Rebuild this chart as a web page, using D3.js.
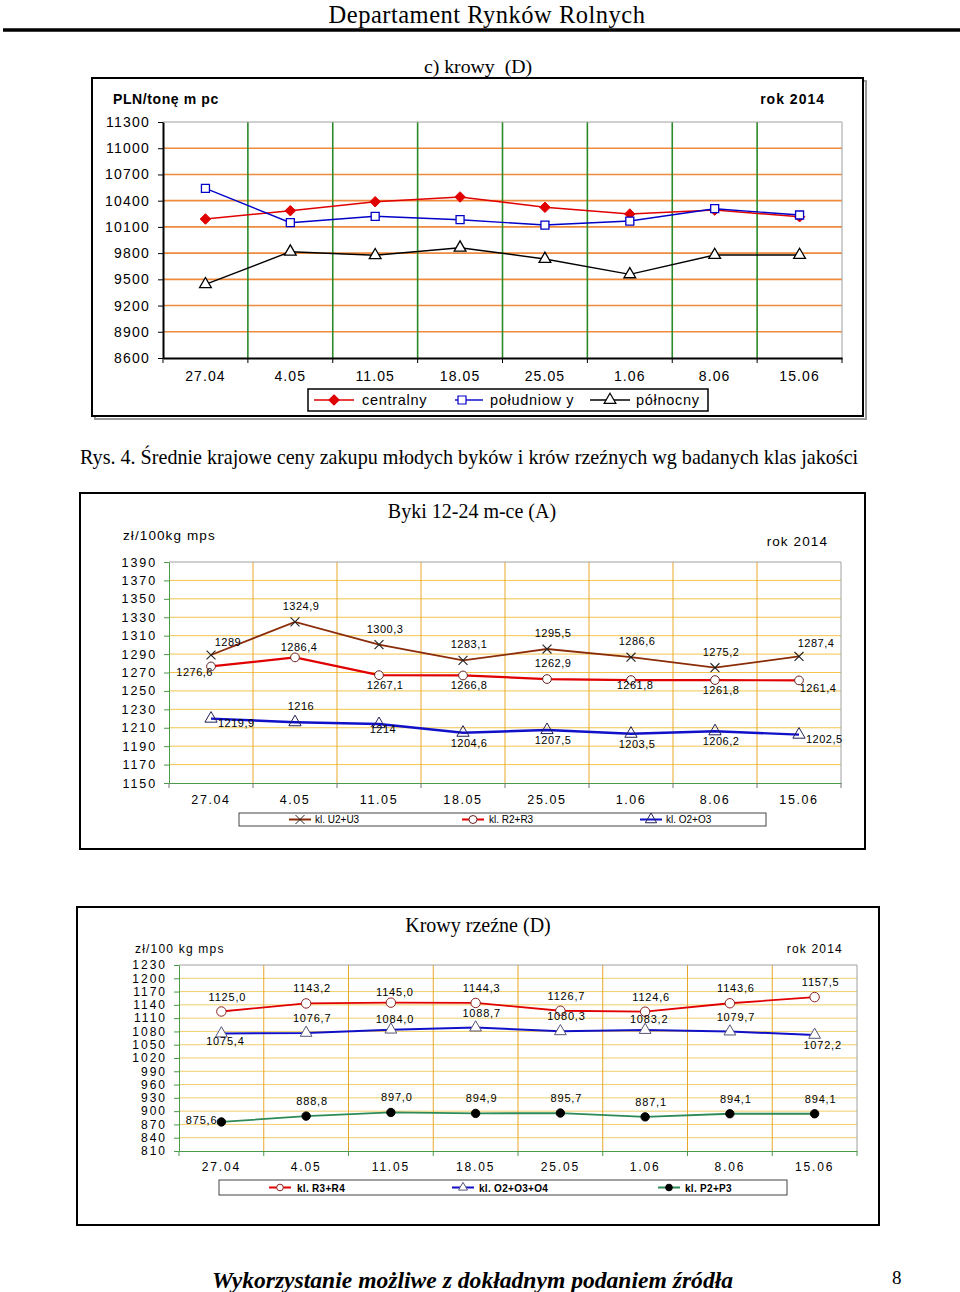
<!DOCTYPE html>
<html><head><meta charset="utf-8">
<script src="https://cdn.jsdelivr.net/npm/d3@7"></script>
<style>body{margin:0;background:#fff}svg{display:block}</style>
</head><body>
<svg id="c" width="960" height="1292"></svg>
<script>
// ---------- DATA ----------
const dates = ["27.04","4.05","11.05","18.05","25.05","1.06","8.06","15.06"];

// c) krowy (D) - regiony, PLN/tonę mpc
const regionTicks = [8600, 8900, 9200, 9500, 9800, 10100, 10400, 10700, 11000, 11300];
const centralny  = [10190, 10285, 10388, 10442, 10324, 10247, 10293, 10216];
const poludniowy = [10541, 10148, 10221, 10182, 10121, 10167, 10308, 10236];
const polnocny   = [9443, 9816, 9775, 9862, 9733, 9557, 9778, 9778];
const regionNames = ["centralny", "południow y", "północny"];

// Byki 12-24 m-ce (A), zł/100kg mps
const bykiTicks = [1150, 1170, 1190, 1210, 1230, 1250, 1270, 1290, 1310, 1330, 1350, 1370, 1390];
const bykiU = [1289, 1324.9, 1300.3, 1283.1, 1295.5, 1286.6, 1275.2, 1287.4];
const bykiR = [1276.6, 1286.4, 1267.1, 1266.8, 1262.9, 1261.8, 1261.8, 1261.4];
const bykiO = [1219.9, 1216, 1214, 1204.6, 1207.5, 1203.5, 1206.2, 1202.5];
const bykiNames = ["kl. U2+U3", "kl. R2+R3", "kl. O2+O3"];
const bykiUPos = ["tr","t","t","t","t","t","t","tr"];
const bykiRPos = ["l","t2","b","b","t","b2","b","br"];
const bykiOPos = ["r","t","b2","b","b","b","b","r"];

// Krowy rzeźne (D), zł/100 kg mps
const krowyTicks = [810, 840, 870, 900, 930, 960, 990, 1020, 1050, 1080, 1110, 1140, 1170, 1200, 1230];
const krowyR = [1125.0, 1143.2, 1145.0, 1144.3, 1126.7, 1124.6, 1143.6, 1157.5];
const krowyO = [1075.4, 1076.7, 1084.0, 1088.7, 1080.3, 1083.2, 1079.7, 1072.2];
const krowyP = [875.6, 888.8, 897.0, 894.9, 895.7, 887.1, 894.1, 894.1];
const krowyNames = ["kl. R3+R4", "kl. O2+O3+O4", "kl. P2+P3"];
const krowyRPos = ["t","t","t2","t","t","t","t","t"];
const krowyOPos = ["b","t","t2","t","t","t2","t","br"];
const krowyPPos = ["l","t","t","t","t","t","t","t"];

// ---------- DRAW ----------
const svg = d3.select("#c");
const SANS = "'Liberation Sans', Arial, sans-serif";
const SERIF = "'Liberation Serif', 'Times New Roman', serif";

const symX = { draw(ctx, size){ const r = Math.sqrt(size)/2; ctx.moveTo(-r,-r); ctx.lineTo(r,r); ctx.moveTo(r,-r); ctx.lineTo(-r,r);} };
const symDiamond = { draw(ctx, size){ const r = Math.sqrt(size)/2; ctx.moveTo(0,-r); ctx.lineTo(r,0); ctx.lineTo(0,r); ctx.lineTo(-r,0); ctx.closePath(); } };

function text(x, y, s, opt={}) {
  const t = svg.append("text").attr("x", x).attr("y", y).text(s)
    .attr("font-family", opt.family || SANS).attr("font-size", opt.size || 12)
    .attr("fill", opt.fill || "#000");
  if (opt.anchor) t.attr("text-anchor", opt.anchor);
  if (opt.weight) t.attr("font-weight", opt.weight);
  if (opt.style) t.attr("font-style", opt.style);
  if (opt.ls) t.attr("letter-spacing", opt.ls);
  return t;
}

// header
text(487, 23, "Departament Rynków Rolnych", {family: SERIF, size: 24.5, anchor: "middle", ls: 0.5});
svg.append("line").attr("x1", 3).attr("x2", 960).attr("y1", 30).attr("y2", 30).attr("stroke", "#000").attr("stroke-width", 3.5);
text(478, 73, "c) krowy  (D)", {family: SERIF, size: 19.8, anchor: "middle"}).style("white-space","pre");

text(80, 464, "Rys. 4. Średnie krajowe ceny zakupu młodych byków i krów rzeźnych wg badanych klas jakości", {family: SERIF, size: 20.1});

text(212, 1288, "Wykorzystanie możliwe z dokładnym podaniem źródła", {family: SERIF, size: 23.6, weight: "bold", style: "italic"});
text(892, 1284, "8", {family: SERIF, size: 19});

function frame(x, y, w, h, shadow) {
  if (shadow) svg.append("rect").attr("x", x+3).attr("y", y+3).attr("width", w).attr("height", h).attr("fill", "none").attr("stroke", "#999").attr("stroke-width", 2);
  svg.append("rect").attr("x", x).attr("y", y).attr("width", w).attr("height", h).attr("fill", "#fff").attr("stroke", "#000").attr("stroke-width", 2);
}

function plot(cfg) {
  const x = d3.scaleBand().domain(dates).range([cfg.x0, cfg.x1]).padding(0);
  const y = d3.scaleLinear().domain([cfg.ticks[0], cfg.ticks[cfg.ticks.length-1]]).range([cfg.y0, cfg.y1]);
  const g = svg.append("g");
  g.selectAll(".hg").data(cfg.ticks.slice(1, -1)).join("line")
    .attr("x1", cfg.x0).attr("x2", cfg.x1).attr("y1", d => y(d)).attr("y2", d => y(d))
    .attr("stroke", cfg.hgrid).attr("stroke-width", cfg.hgridW || 1);
  const bounds = dates.slice(1).map(d => x(d));
  g.selectAll(".vg").data(bounds).join("line")
    .attr("x1", d => d).attr("x2", d => d).attr("y1", cfg.y1).attr("y2", cfg.y0)
    .attr("stroke", cfg.vgrid).attr("stroke-width", cfg.vgridW || 1);
  g.append("line").attr("x1", cfg.x0).attr("x2", cfg.x1).attr("y1", cfg.y1).attr("y2", cfg.y1).attr("stroke", "#a0a0a0");
  g.append("line").attr("x1", cfg.x1).attr("x2", cfg.x1).attr("y1", cfg.y1).attr("y2", cfg.y0).attr("stroke", "#a0a0a0");
  const ya = d3.axisLeft(y).tickValues(cfg.ticks).tickSize(cfg.ytick).tickSizeOuter(0).tickFormat(d3.format("d"));
  const yg = g.append("g").attr("transform", `translate(${cfg.x0},0)`).call(ya);
  yg.select(".domain").attr("stroke", cfg.axis).attr("stroke-width", cfg.axisW);
  yg.selectAll(".tick line").attr("stroke", cfg.axis);
  yg.selectAll(".tick text").attr("font-family", SANS).attr("font-size", cfg.ySize).attr("fill", "#000")
    .attr("letter-spacing", cfg.yLs).attr("x", -cfg.yPad).attr("font-weight", cfg.yWeight || "normal");
  const xa = d3.axisBottom(x).tickSize(0).tickSizeOuter(0);
  const xg = g.append("g").attr("transform", `translate(0,${cfg.y0})`).call(xa);
  xg.select(".domain").attr("stroke", cfg.axis).attr("stroke-width", cfg.axisW);
  xg.selectAll(".tick text").attr("font-family", SANS).attr("font-size", cfg.xSize).attr("fill", "#000")
    .attr("letter-spacing", cfg.xLs).attr("y", cfg.xPad).attr("dy", "0.71em");
  g.selectAll(".xt").data([cfg.x0, ...bounds, cfg.x1]).join("line")
    .attr("x1", d => d).attr("x2", d => d).attr("y1", cfg.y0).attr("y2", cfg.y0 + cfg.xtick)
    .attr("stroke", cfg.xtickColor || cfg.axis).attr("stroke-width", 1);
  const cx = d => x(d) + x.bandwidth()/2;
  cfg.series.forEach(s => {
    const pts = s.values.map((v, i) => [cx(dates[i]), y(v)]);
    g.append("path").attr("d", d3.line()(pts)).attr("fill", "none").attr("stroke", s.color).attr("stroke-width", s.width || 1.5);
    const sym = d3.symbol().type(s.symbol).size(s.size);
    g.selectAll(null).data(s.values).join("path")
      .attr("transform", (v, i) => `translate(${cx(dates[i])},${y(v)})`)
      .attr("d", sym).attr("fill", s.fill).attr("stroke", s.mstroke).attr("stroke-width", s.mw || 1.2);
    if (s.pos) {
      const off = cfg.labelOff;
      g.selectAll(null).data(s.values).join("text")
        .attr("x", (v, i) => cx(dates[i]) + off[s.pos[i]][0])
        .attr("y", (v, i) => y(v) + off[s.pos[i]][1])
        .attr("text-anchor", (v, i) => off[s.pos[i]][2])
        .attr("font-family", SANS).attr("font-size", cfg.lSize).attr("letter-spacing", cfg.lLs).attr("fill", "#000")
        .text(v => s.fmt(v));
    }
  });
  return {x, y};
}

// ---- Chart 1: krowy (D) regiony
frame(92, 78, 771, 338, true);
text(113, 104, "PLN/tonę m pc", {size: 14, weight: "bold", ls: 0.6}).style("white-space","pre");
text(825, 104, "rok 2014", {size: 14, weight: "bold", anchor: "end", ls: 1});
plot({
  x0: 163, x1: 842, y0: 358, y1: 122, ticks: regionTicks,
  hgrid: "#f08a3c", hgridW: 1.6, vgrid: "#2a8a2a", vgridW: 1.6,
  axis: "#000", axisW: 2, ytick: 5, ySize: 14, yLs: 1.2, yPad: 13,
  xSize: 14, xLs: 1.1, xPad: 13, xtick: 5,
  series: [
    {values: centralny, color: "#e00000", width: 1.4, symbol: symDiamond, size: 110, fill: "#e00000", mstroke: "#e00000", mw: 1},
    {values: poludniowy, color: "#0000c8", width: 1.4, symbol: d3.symbolSquare, size: 64, fill: "#fff", mstroke: "#0000c8", mw: 1.3},
    {values: polnocny, color: "#000", width: 1.4, symbol: d3.symbolTriangle, size: 60, fill: "#fff", mstroke: "#000", mw: 1.3}
  ]
});
svg.append("rect").attr("x", 308).attr("y", 389).attr("width", 400).attr("height", 22).attr("fill", "#fff").attr("stroke", "#000").attr("stroke-width", 1.5);
[[314, "#e00000", symDiamond, "#e00000", 100, 362], [455, "#0000c8", d3.symbolSquare, "#fff", 64, 490], [590, "#000", d3.symbolTriangle, "#fff", 60, 636]].forEach((it, i) => {
  svg.append("line").attr("x1", it[0]).attr("x2", it[0] + (i === 1 ? 28 : 40)).attr("y1", 400).attr("y2", 400).attr("stroke", it[1]).attr("stroke-width", 1.4);
  svg.append("path").attr("transform", `translate(${it[0] + (i === 1 ? 7 : 20)},400)`).attr("d", d3.symbol().type(it[2]).size(it[4])).attr("fill", it[3]).attr("stroke", it[1]).attr("stroke-width", 1.2);
  text(it[5], 405, regionNames[i], {size: 14.5, ls: 0.7}).style("white-space","pre");
});

// ---- Chart 2: Byki
frame(80, 493, 785, 356, false);
text(472, 518, "Byki 12-24 m-ce (A)", {family: SERIF, size: 20, anchor: "middle"});
text(123, 540, "zł/100kg mps", {size: 13.5, ls: 1.1});
text(828, 546, "rok 2014", {size: 13.5, anchor: "end", ls: 1.1});
const fmtB = v => String(v).replace(".", ",");
const offB = {t: [6, -12, "middle"], t2: [4, -6, "middle"], tr: [17, -9, "middle"], b: [6, 14, "middle"], b2: [4, 9, "middle"],
  br: [19, 12, "middle"], l: [2, 10, "end"], r: [7, 8, "start"]};
plot({
  x0: 169, x1: 841, y0: 783, y1: 562, ticks: bykiTicks,
  hgrid: "#f2c44e", vgrid: "#e8a628", axis: "#4a9a4a", axisW: 1, ytick: 5, ySize: 12.5, yLs: 1.9, yPad: 12,
  xSize: 12.5, xLs: 1.6, xPad: 12, xtick: 5, xtickColor: "#777",
  lSize: 11, lLs: 0.5, labelOff: offB,
  series: [
    {values: bykiU, color: "#8b2c08", width: 1.8, symbol: symX, size: 80, fill: "none", mstroke: "#222", mw: 1.1, pos: bykiUPos, fmt: fmtB},
    {values: bykiR, color: "#e00000", width: 2.2, symbol: d3.symbolCircle, size: 60, fill: "#fff", mstroke: "#662222", mw: 1, pos: bykiRPos, fmt: fmtB},
    {values: bykiO, color: "#1010c8", width: 2.4, symbol: d3.symbolTriangle, size: 65, fill: "none", mstroke: "#222255", mw: 1, pos: bykiOPos, fmt: fmtB}
  ]
});
svg.append("rect").attr("x", 239).attr("y", 813).attr("width", 527).attr("height", 13).attr("fill", "#fff").attr("stroke", "#444").attr("stroke-width", 1);
[[289, "#8b2c08", symX, "none", "#222", 80, 315], [462, "#e00000", d3.symbolCircle, "#fff", "#662222", 50, 489], [640, "#1010c8", d3.symbolTriangle, "none", "#222255", 55, 666]].forEach((it, i) => {
  svg.append("line").attr("x1", it[0]).attr("x2", it[0] + 22).attr("y1", 819.5).attr("y2", 819.5).attr("stroke", it[1]).attr("stroke-width", 2);
  svg.append("path").attr("transform", `translate(${it[0] + 11},819.5)`).attr("d", d3.symbol().type(it[2]).size(it[5])).attr("fill", it[3]).attr("stroke", it[4]).attr("stroke-width", 1);
  text(it[6], 823, bykiNames[i], {size: 10});
});

// ---- Chart 3: Krowy rzeźne
frame(77, 907, 802, 318, false);
text(478, 932, "Krowy rzeźne (D)", {family: SERIF, size: 20, anchor: "middle"});
text(135, 953, "zł/100 kg mps", {size: 12, ls: 1.2});
text(843, 953, "rok 2014", {size: 12, anchor: "end", ls: 1.2});
const fmtK = v => d3.format(".1f")(v).replace(".", ",");
const offK = {t: [6, -11, "middle"], t2: [4, -7, "middle"], b: [4, 12, "middle"], br: [8, 14, "middle"], l: [-4, 2, "end"]};
plot({
  x0: 179, x1: 857, y0: 1151, y1: 965, ticks: krowyTicks,
  hgrid: "#f0cf6a", vgrid: "#e8a628", axis: "#4a9a4a", axisW: 1, ytick: 5, ySize: 12, yLs: 2, yPad: 12,
  xSize: 12, xLs: 1.8, xPad: 11, xtick: 5, xtickColor: "#4a9a4a",
  lSize: 11, lLs: 0.8, labelOff: offK,
  series: [
    {values: krowyR, color: "#e00000", width: 1.8, symbol: d3.symbolCircle, size: 70, fill: "#fff", mstroke: "#8b2020", mw: 1, pos: krowyRPos, fmt: fmtK},
    {values: krowyO, color: "#1010c8", width: 2, symbol: d3.symbolTriangle, size: 60, fill: "#fff", mstroke: "#555577", mw: 1, pos: krowyOPos, fmt: fmtK},
    {values: krowyP, color: "#2e8b57", width: 1.8, symbol: d3.symbolCircle, size: 55, fill: "#000", mstroke: "#000", mw: 1, pos: krowyPPos, fmt: fmtK}
  ]
});
svg.append("rect").attr("x", 219).attr("y", 1180).attr("width", 568).attr("height", 15).attr("fill", "#fff").attr("stroke", "#444").attr("stroke-width", 1);
[[269, "#e00000", d3.symbolCircle, "#fff", "#8b2020", 35, 297], [452, "#1010c8", d3.symbolTriangle, "#fff", "#555577", 35, 479], [658, "#2e8b57", d3.symbolCircle, "#000", "#000", 35, 685]].forEach((it, i) => {
  svg.append("line").attr("x1", it[0]).attr("x2", it[0] + 22).attr("y1", 1187.5).attr("y2", 1187.5).attr("stroke", it[1]).attr("stroke-width", 2);
  svg.append("path").attr("transform", `translate(${it[0] + 11},1187.5)`).attr("d", d3.symbol().type(it[2]).size(it[5])).attr("fill", it[3]).attr("stroke", it[4]).attr("stroke-width", 1);
  text(it[6], 1191.5, krowyNames[i], {size: 10, weight: "bold", ls: 0.3});
});
</script>
</body></html>
